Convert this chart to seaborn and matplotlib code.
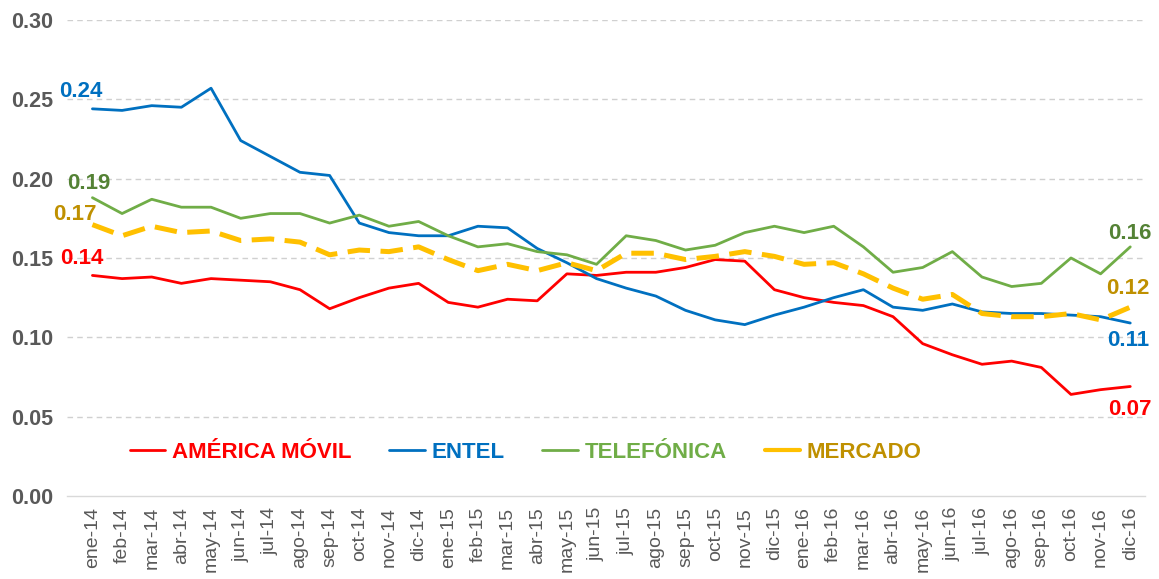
import numpy as np
import pandas as pd
import matplotlib
matplotlib.use("Agg")
import matplotlib.pyplot as plt
import seaborn as sns

# ======================================
# Data
# ======================================

meses = [
    "ene-14", "feb-14", "mar-14", "abr-14", "may-14", "jun-14",
    "jul-14", "ago-14", "sep-14", "oct-14", "nov-14", "dic-14",
    "ene-15", "feb-15", "mar-15", "abr-15", "may-15", "jun-15",
    "jul-15", "ago-15", "sep-15", "oct-15", "nov-15", "dic-15",
    "ene-16", "feb-16", "mar-16", "abr-16", "may-16", "jun-16",
    "jul-16", "ago-16", "sep-16", "oct-16", "nov-16", "dic-16",
]

america_movil = [
    0.139, 0.137, 0.138, 0.134, 0.137, 0.136, 0.135, 0.130, 0.118,
    0.125, 0.131, 0.134, 0.122, 0.119, 0.124, 0.123, 0.140, 0.139,
    0.141, 0.141, 0.144, 0.149, 0.148, 0.130, 0.125, 0.122, 0.120,
    0.113, 0.096, 0.089, 0.083, 0.085, 0.081, 0.064, 0.067, 0.069,
]

entel = [
    0.244, 0.243, 0.246, 0.245, 0.257, 0.224, 0.214, 0.204, 0.202,
    0.172, 0.166, 0.164, 0.164, 0.170, 0.169, 0.156, 0.147, 0.137,
    0.131, 0.126, 0.117, 0.111, 0.108, 0.114, 0.119, 0.125, 0.130,
    0.119, 0.117, 0.121, 0.116, 0.115, 0.115, 0.114, 0.113, 0.109,
]

telefonica = [
    0.188, 0.178, 0.187, 0.182, 0.182, 0.175, 0.178, 0.178, 0.172,
    0.177, 0.170, 0.173, 0.164, 0.157, 0.159, 0.154, 0.152, 0.146,
    0.164, 0.161, 0.155, 0.158, 0.166, 0.170, 0.166, 0.170, 0.157,
    0.141, 0.144, 0.154, 0.138, 0.132, 0.134, 0.150, 0.140, 0.157,
]

mercado = [
    0.171, 0.164, 0.170, 0.166, 0.167, 0.161, 0.162, 0.160, 0.152,
    0.155, 0.154, 0.157, 0.149, 0.142, 0.146, 0.142, 0.147, 0.142,
    0.153, 0.153, 0.149, 0.151, 0.154, 0.151, 0.146, 0.147, 0.140,
    0.131, 0.124, 0.127, 0.115, 0.113, 0.113, 0.115, 0.111, 0.119,
]

y_ticks = [0.00, 0.05, 0.10, 0.15, 0.20, 0.25, 0.30]

# ======================================
# Styles
# ======================================

series = [
    # name, values, line colour, label colour, width, linestyle
    ("AMÉRICA MÓVIL", america_movil, "#FF0000", "#FF0000", 2.0, "-"),
    ("ENTEL", entel, "#0070C0", "#0070C0", 2.0, "-"),
    ("TELEFÓNICA", telefonica, "#70AD47", "#70AD47", 2.0, "-"),
    ("MERCADO", mercado, "#FFC000", "#BF9000", 3.6, (0, (4.5, 2.1))),
]

# label offsets in pixels: (first dx, first dy, last dx, last dy)
label_offsets = {
    "AMÉRICA MÓVIL": (-11, 17, 0, -23),
    "ENTEL": (-12, 17, -2, -17),
    "TELEFÓNICA": (-4, 14, 0, 13),
    "MERCADO": (-18, 10, -2, 19),
}
label_colours = {
    "AMÉRICA MÓVIL": "#FF0000",
    "ENTEL": "#0070C0",
    "TELEFÓNICA": "#548235",
    "MERCADO": "#BF9000",
}

sns.set_theme(style="white")
plt.rcParams["font.family"] = ["Liberation Sans", "DejaVu Sans"]

fig = plt.figure(figsize=(11.59, 5.79), dpi=100)
ax = fig.add_axes([0.058, 0.1434, 0.930, 0.8221])

pos = np.arange(len(meses))

for name, vals, colour, lab_col, lw, ls in series:
    sns.lineplot(
        x=pos,
        y=vals,
        color=colour,
        linewidth=lw,
        linestyle=ls,
        label=name,
        ax=ax,
    )

# first / last value labels
for name, vals, colour, lab_col, lw, ls in series:
    fdx, fdy, ldx, ldy = label_offsets[name]
    ax.annotate(
        f"{vals[0]:.2f}", (pos[0], vals[0]),
        xytext=(fdx, fdy), textcoords="offset pixels",
        ha="center", va="center", fontsize=16, fontweight="bold",
        color=label_colours[name],
    )
    ax.annotate(
        f"{vals[-1]:.2f}", (pos[-1], vals[-1]),
        xytext=(ldx, ldy), textcoords="offset pixels",
        ha="center", va="center", fontsize=16, fontweight="bold",
        color=label_colours[name],
    )

ax.set_xlim(-0.85, 35.5)
ax.set_ylim(0, 0.30)
ax.set_yticks(y_ticks)
ax.set_yticklabels([f"{v:.2f}" for v in y_ticks])
ax.set_xticks(pos)
ax.set_xticklabels(meses, rotation=90)

for lab in ax.get_yticklabels():
    lab.set_fontweight("bold")
    lab.set_fontsize(15.5)
    lab.set_color("#595959")
for lab in ax.get_xticklabels():
    lab.set_fontsize(14)
    lab.set_color("#595959")

ax.tick_params(axis="x", length=0, pad=8)
ax.tick_params(axis="y", length=0, pad=10)
ax.set_xlabel("")
ax.set_ylabel("")

for v in y_ticks[1:]:
    ax.axhline(v, color="#D0D0D0", linewidth=1.0, linestyle=(0, (4, 3)), zorder=0)

for side in ["top", "right", "left"]:
    ax.spines[side].set_visible(False)
ax.spines["bottom"].set_color("#D9D9D9")
ax.spines["bottom"].set_linewidth(1.0)

leg = ax.legend(
    loc="center left",
    bbox_to_anchor=(0.058, 0.092),
    ncol=4,
    frameon=False,
    fontsize=16,
    handlelength=1.6,
    handletextpad=0.3,
    columnspacing=1.7,
    borderpad=0,
    borderaxespad=0,
)
for text, (_, _, _, lab_col, _, _) in zip(leg.get_texts(), series):
    text.set_color(lab_col)
    text.set_fontweight("bold")

# the market handle is a single short dash in the reference
gold_handle = leg.get_lines()[3]
gold_handle.set_linestyle("-")
gold_handle.set_linewidth(3.0)
gold_handle.set_solid_capstyle("round")

fig.savefig("out.png", dpi=100)
plt.close(fig)
